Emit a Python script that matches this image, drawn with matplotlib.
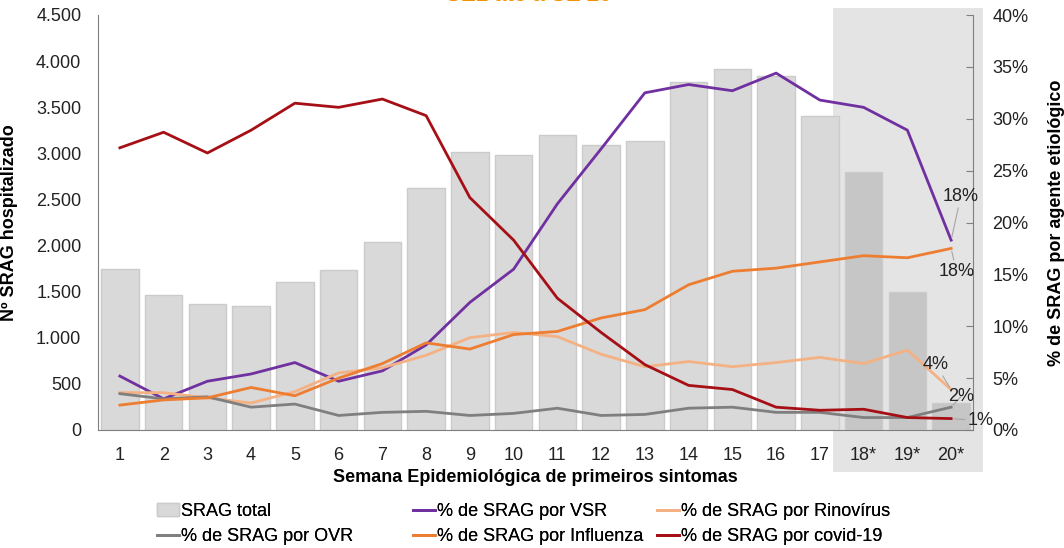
import matplotlib
matplotlib.use("Agg")
import matplotlib.pyplot as plt
from matplotlib.patches import Rectangle

weeks = ["1", "2", "3", "4", "5", "6", "7", "8", "9", "10", "11", "12", "13", "14",
         "15", "16", "17", "18*", "19*", "20*"]
srag_total = [1750, 1460, 1370, 1340, 1600, 1740, 2040, 2620, 3010, 2980, 3200, 3090,
              3130, 3770, 3910, 3840, 3410, 2800, 1500, 290]
pct_vsr = [5.2, 3.0, 4.7, 5.4, 6.5, 4.7, 5.7, 8.2, 12.3, 15.5, 21.8, 27.1, 32.5, 33.3,
           32.7, 34.4, 31.8, 31.1, 28.9, 18.3]
pct_rino = [3.6, 3.6, 3.1, 2.6, 3.7, 5.5, 6.0, 7.2, 8.9, 9.4, 9.0, 7.3, 6.1, 6.6,
            6.1, 6.5, 7.0, 6.4, 7.7, 3.9]
pct_ovr = [3.5, 3.0, 3.2, 2.2, 2.5, 1.4, 1.7, 1.8, 1.4, 1.6, 2.1, 1.4, 1.5, 2.1,
           2.2, 1.7, 1.7, 1.2, 1.2, 2.2]
pct_flu = [2.4, 2.9, 3.1, 4.1, 3.3, 5.0, 6.4, 8.4, 7.8, 9.2, 9.5, 10.8, 11.6, 14.0,
           15.3, 15.6, 16.2, 16.8, 16.6, 17.5]
pct_covid = [27.2, 28.7, 26.7, 28.9, 31.5, 31.1, 31.9, 30.3, 22.4, 18.3, 12.7, 9.4, 6.3, 4.3,
             3.9, 2.2, 1.9, 2.0, 1.2, 1.1]
left_ticks = [0, 500, 1000, 1500, 2000, 2500, 3000, 3500, 4000, 4500]
left_tick_labels = ["0", "500", "1.000", "1.500", "2.000", "2.500", "3.000", "3.500", "4.000", "4.500"]
right_ticks = [0, 5, 10, 15, 20, 25, 30, 35, 40]

plt.rcParams["font.family"] = ["Liberation Sans", "DejaVu Sans"]
FS = 13

fig = plt.figure(figsize=(10.64, 5.48), dpi=100)
fig.patches.append(Rectangle((833 / 1064, 1 - 472 / 548), 150 / 1064, 464 / 548,
                             transform=fig.transFigure, facecolor="#e4e4e4",
                             edgecolor="none", zorder=-5))
AX_L, AX_W = 98, 875
ax = fig.add_axes([AX_L / 1064, 1 - 430 / 548, AX_W / 1064, 415 / 548])
ax.patch.set_alpha(0)
x = list(range(1, len(weeks) + 1))
bar_colors = ["#d9d9d9"] * 17 + ["#c6c6c6"] * 3
ax.bar(x, srag_total, width=0.86, color=bar_colors, edgecolor="#cbcbcb", linewidth=1,
       label="SRAG total", zorder=2)
ax.set_xlim(0.5, 20.5)
ax.set_ylim(0, 4500)
ax.set_yticks(left_ticks)
ax.set_yticklabels(left_tick_labels)
ax.set_xticks(x)
ax.set_xticklabels(weeks)
ax.tick_params(axis="both", labelsize=FS, length=0, colors="#222222")
ax.tick_params(axis="x", pad=12)
ax.tick_params(axis="y", pad=12)
for s in ["top", "right"]:
    ax.spines[s].set_visible(False)
for s in ["left", "bottom"]:
    ax.spines[s].set_color("#7f7f7f")
ax.set_ylabel("Nº SRAG hospitalizado", fontsize=FS, fontweight="bold")
ax.yaxis.set_label_coords((18 - AX_L) / AX_W, 0.5)
ax.set_xlabel("Semana Epidemiológica de primeiros sintomas", fontsize=FS,
              fontweight="bold", labelpad=4)

ax2 = ax.twinx()
ax2.set_ylim(0, 40)
ax2.set_yticks(right_ticks)
ax2.set_yticklabels([f"{t}%" for t in right_ticks])
ax2.tick_params(axis="y", labelsize=FS, length=5, direction="in", pad=14, colors="#222222")
ax2.tick_params(axis="y", color="#7f7f7f")
for s in ["top", "left", "bottom"]:
    ax2.spines[s].set_visible(False)
ax2.spines["right"].set_color("#7f7f7f")
ax2.set_ylabel("% de SRAG por agente etiológico", fontsize=FS, fontweight="bold")
ax2.yaxis.set_label_coords((1048 - AX_L) / AX_W, 0.5)

lw = 2.0
l_vsr, = ax2.plot(x, pct_vsr, color="#7030a0", lw=lw, label="% de SRAG por VSR")
l_rino, = ax2.plot(x, pct_rino, color="#f4b183", lw=lw, label="% de SRAG por Rinovírus")
l_ovr, = ax2.plot(x, pct_ovr, color="#7f7f7f", lw=lw, label="% de SRAG por OVR")
l_flu, = ax2.plot(x, pct_flu, color="#ed7d31", lw=lw, label="% de SRAG por Influenza")
l_cov, = ax2.plot(x, pct_covid, color="#a50f15", lw=lw, label="% de SRAG por covid-19")

ann = dict(fontsize=FS, color="#222222",
           arrowprops=dict(arrowstyle="-", color="#a6a6a6", lw=0.8, shrinkA=0, shrinkB=2))
ax2.annotate(f"{round(pct_vsr[-1])}%", xy=(20, pct_vsr[-1]), xytext=(20.22, 22.5),
             ha="center", va="center", **ann)
ax2.annotate(f"{round(pct_flu[-1])}%", xy=(20, pct_flu[-1]), xytext=(20.12, 15.3),
             ha="center", va="center", **ann)
ax2.annotate(f"{round(pct_rino[-1])}%", xy=(20, pct_rino[-1]), xytext=(19.65, 6.3),
             ha="center", va="center", **ann)
ax2.annotate(f"{round(pct_ovr[-1])}%", xy=(20, pct_ovr[-1]), xytext=(20.22, 3.2),
             ha="center", va="center", **ann)
ax2.annotate(f"{round(pct_covid[-1])}%", xy=(20, pct_covid[-1]), xytext=(20.68, 0.9),
             ha="center", va="center", **ann)

bars_handle = ax.containers[0]
cols = [([bars_handle, l_ovr], 157), ([l_vsr, l_flu], 413), ([l_rino, l_cov], 657)]
for hs, xpos in cols:
    leg = fig.legend(hs, [h.get_label() for h in hs], loc="upper left",
                     bbox_to_anchor=(xpos / 1064, 1 - 503 / 548), ncol=1,
                     frameon=False, fontsize=FS, handlelength=1.2, handletextpad=0.15,
                     labelspacing=0.45, borderaxespad=0, borderpad=0)
    fig.add_artist(leg)

fig.text(0.497, 1.009, "SE1 até a SE 20", ha="center", va="center", fontsize=16,
         fontweight="bold", color="#f39200")

fig.savefig("out.png", dpi=100)
